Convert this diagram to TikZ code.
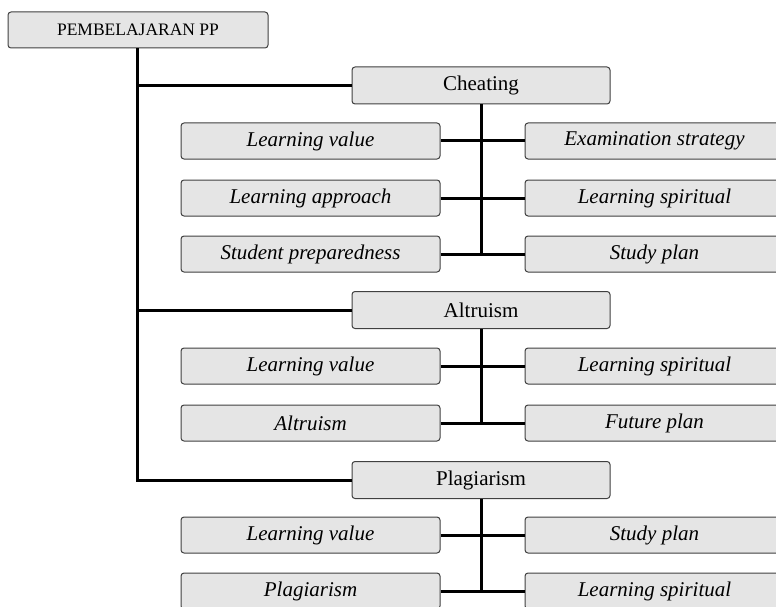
\documentclass[tikz,border=0pt]{standalone}
\usepackage{fontspec}
\setmainfont{Liberation Serif}
\usetikzlibrary{positioning}

\begin{document}
\begin{tikzpicture}[x=1pt,y=-1pt,
  box/.style={draw=black!75,fill=black!10,rounded corners=3pt,line width=1pt,inner sep=0pt},
  head/.style={box,minimum width=258pt,minimum height=37pt,font=\fontsize{21}{23}\selectfont},
  leaf/.style={box,minimum width=259pt,minimum height=36pt,font=\fontsize{21}{23}\selectfont\itshape},
  link/.style={line width=3pt}]
\useasboundingbox (0,0) rectangle (776,607);
\clip (0,0) rectangle (776,607);
% top
\node[box,minimum width=260pt,minimum height=36pt,font=\fontsize{17.5}{19}\selectfont] (root) at (138,30) {PEMBELAJARAN PP};
% Cheating
\node[head] (cheat) at (481,85.5) {Cheating};
\node[leaf] (cvalue) at (310.5,141) {Learning value};
\node[leaf] (capproach) at (310.5,198) {Learning approach};
\node[leaf] (cprep) at (310.5,254) {Student preparedness};
\node[leaf] (cexam) at (654.5,141) {Examination strategy};
\node[leaf] (cspirit) at (654.5,198) {Learning spiritual};
\node[leaf] (cplan) at (654.5,254) {Study plan};
% Altruism
\node[head] (altru) at (481,310) {Altruism};
\node[leaf] (avalue) at (310.5,366) {Learning value};
\node[leaf] (aaltru) at (310.5,423) {Altruism};
\node[leaf] (aspirit) at (654.5,366) {Learning spiritual};
\node[leaf] (afuture) at (654.5,423) {Future plan};
% Plagiarism
\node[head] (plag) at (481,480) {Plagiarism};
\node[leaf] (pvalue) at (310.5,535) {Learning value};
\node[leaf] (pplag) at (310.5,591) {Plagiarism};
\node[leaf] (pplan) at (654.5,535) {Study plan};
\node[leaf] (pspirit) at (654.5,591) {Learning spiritual};
% links
\coordinate (trunk) at (root.south -| 137,0);
\draw[link] (trunk) |- (cheat.west);
\draw[link] (trunk) |- (altru.west);
\draw[link] (trunk) |- (plag.west);
\draw[link] (cheat.south) -- (cheat.south |- cprep.east);
\draw[link] (cvalue) -- (cexam);
\draw[link] (capproach) -- (cspirit);
\draw[link] (cprep) -- (cplan);
\draw[link] (altru.south) -- (altru.south |- aaltru.east);
\draw[link] (avalue) -- (aspirit);
\draw[link] (aaltru) -- (afuture);
\draw[link] (plag.south) -- (plag.south |- pplag.east);
\draw[link] (pvalue) -- (pplan);
\draw[link] (pplag) -- (pspirit);
\end{tikzpicture}
\end{document}
